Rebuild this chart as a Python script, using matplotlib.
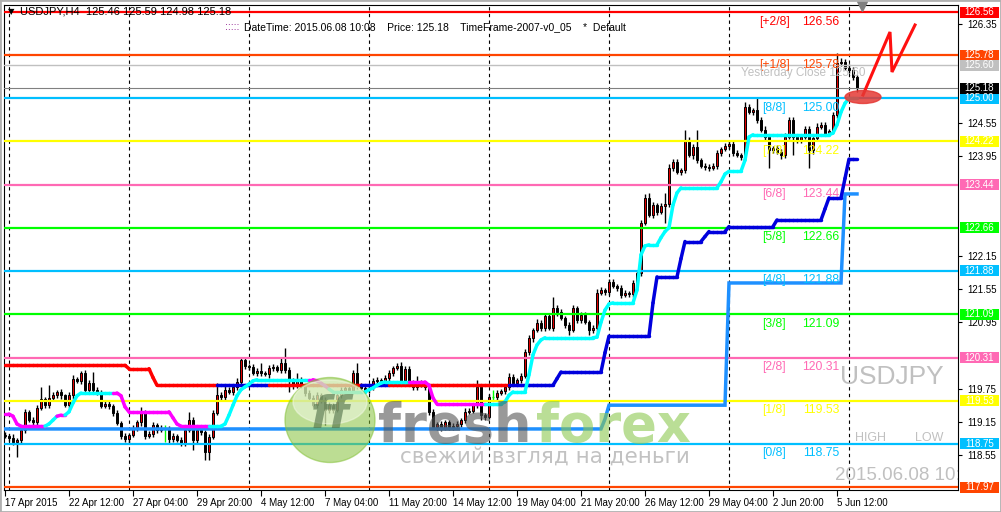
import numpy as np
import pandas as pd
import matplotlib
matplotlib.use("Agg")
import matplotlib.pyplot as plt
import matplotlib.transforms as mtransforms
from matplotlib.collections import LineCollection
from matplotlib.patches import Ellipse, Rectangle

plt.rcParams['font.family'] = ['Liberation Sans', 'DejaVu Sans']

# ---------------- data: USDJPY H4 ----------------
first_open = 118.91
closes = [
    118.89, 118.86, 118.79, 118.82, 119.00, 119.33, 119.18, 119.14, 119.40, 119.56,
    119.45, 119.58, 119.63, 119.69, 119.63, 119.45, 119.63, 119.92, 119.89, 120.03,
    119.73, 119.85, 119.73, 119.69, 119.44, 119.47, 119.44, 119.31, 119.13, 118.89,
    118.84, 118.91, 119.04, 119.14, 119.33, 118.89, 118.93, 119.09, 119.00, 119.04,
    119.04, 118.84, 118.89, 118.82, 118.77, 119.00, 119.18, 118.82, 119.00, 118.97,
    118.60, 118.88, 119.31, 119.63, 119.60, 119.73, 119.69, 119.78, 119.87, 120.27,
    120.16, 120.14, 120.03, 120.07, 120.03, 120.01, 120.12, 120.14, 120.09, 120.21,
    120.09, 119.91, 119.81, 119.91, 119.80, 119.67, 119.58, 119.45, 119.63, 119.54,
    119.36, 119.45, 119.36, 119.63, 119.73, 119.76, 119.73, 120.03, 119.81, 119.76,
    119.73, 119.76, 119.89, 119.91, 119.85, 119.94, 120.03, 120.12, 120.16, 119.91,
    120.10, 119.87, 119.78, 119.81, 119.85, 119.78, 119.33, 119.06, 119.11, 119.04,
    119.14, 119.06, 119.07, 119.11, 119.18, 119.33, 119.35, 119.45, 119.78, 119.27,
    119.24, 119.60, 119.60, 119.67, 119.71, 119.78, 119.96, 119.85, 119.91, 119.98,
    120.41, 120.66, 120.81, 120.94, 120.85, 121.06, 120.85, 121.21, 121.13, 121.03,
    120.90, 120.81, 121.21, 120.99, 121.08, 120.95, 120.81, 120.85, 121.48, 121.53,
    121.50, 121.68, 121.61, 121.57, 121.44, 121.48, 121.46, 121.66, 121.84, 122.75,
    123.20, 122.89, 123.07, 122.94, 123.05, 123.09, 123.74, 123.85, 123.67, 123.70,
    124.25, 123.97, 124.12, 123.88, 123.78, 123.76, 123.74, 123.78, 124.01, 124.08,
    124.14, 124.17, 124.01, 123.97, 123.94, 124.84, 124.75, 124.79, 124.61, 124.43,
    124.30, 124.06, 124.10, 124.03, 123.97, 124.30, 124.61, 124.30, 124.25, 124.30,
    124.44, 124.06, 124.28, 124.48, 124.52, 124.37, 124.41, 124.70, 125.64, 125.66,
    125.55, 125.51, 125.38, 125.18,
]
# wick lengths in pips above / below the body
wick_up = [
    5, 4, 6, 3, 6, 5, 4, 6, 5, 22,
    4, 23, 5, 4, 6, 3, 5, 7, 4, 4,
    6, 5, 20, 5, 4, 6, 5, 4, 6, 3,
    5, 4, 6, 5, 8, 4, 5, 6, 4, 5,
    5, 4, 6, 3, 5, 4, 15, 5, 4, 6,
    4, 5, 6, 22, 5, 6, 4, 5, 7, 6,
    5, 4, 6, 5, 14, 4, 6, 5, 4, 9,
    27, 5, 4, 12, 5, 4, 6, 5, 6, 4,
    5, 6, 4, 7, 5, 4, 6, 5, 18, 4,
    5, 4, 6, 5, 4, 6, 5, 4, 6, 7,
    5, 6, 4, 17, 5, 4, 6, 5, 4, 6,
    5, 4, 6, 5, 4, 6, 5, 4, 13, 5,
    4, 6, 13, 5, 4, 6, 8, 5, 4, 6,
    5, 6, 4, 7, 5, 6, 4, 20, 5, 6,
    4, 5, 6, 4, 5, 6, 4, 5, 8, 5,
    4, 6, 5, 4, 6, 5, 4, 6, 5, 5,
    6, 9, 5, 4, 6, 20, 8, 5, 6, 4,
    18, 5, 6, 31, 4, 5, 6, 5, 6, 4,
    5, 8, 6, 5, 4, 10, 5, 4, 21, 5,
    6, 5, 4, 6, 5, 8, 6, 5, 4, 6,
    5, 6, 4, 7, 5, 6, 4, 5, 18, 6,
    5, 7, 6, 5,
]
wick_dn = [
    4, 5, 6, 28, 5, 6, 4, 5, 6, 4,
    5, 6, 4, 5, 6, 4, 5, 6, 4, 5,
    6, 5, 4, 6, 5, 4, 6, 5, 4, 6,
    5, 7, 4, 5, 6, 5, 4, 6, 5, 4,
    25, 7, 5, 4, 6, 5, 4, 18, 5, 6,
    14, 14, 5, 4, 6, 5, 4, 6, 5, 4,
    6, 5, 4, 6, 5, 4, 6, 5, 4, 6,
    5, 22, 6, 5, 4, 6, 5, 4, 6, 5,
    27, 5, 6, 4, 5, 6, 4, 5, 6, 4,
    5, 6, 4, 5, 6, 4, 5, 6, 4, 5,
    6, 4, 5, 6, 4, 5, 6, 4, 5, 6,
    4, 5, 6, 4, 5, 6, 4, 5, 6, 9,
    5, 4, 5, 6, 4, 5, 6, 4, 5, 6,
    4, 5, 6, 4, 5, 6, 4, 5, 6, 4,
    5, 9, 4, 6, 5, 4, 9, 5, 6, 4,
    5, 6, 4, 5, 6, 4, 5, 6, 4, 6,
    5, 4, 6, 5, 4, 30, 6, 5, 4, 6,
    5, 4, 6, 5, 4, 6, 5, 4, 6, 5,
    4, 6, 5, 4, 6, 5, 4, 6, 5, 4,
    6, 32, 5, 4, 6, 5, 4, 33, 5, 6,
    4, 32, 6, 5, 4, 6, 5, 4, 6, 5,
    4, 6, 5, 7,
]

# trailing support line (magenta = down mode, cyan = up mode)
support = (
    [119.29, 119.29, 119.25, 119.11] + [119.07] * 7 + [119.11, 119.18, 119.25, 119.27, 119.27, 119.33, 119.49, 119.62]
    + [119.67] * 10 + [119.62, 119.42] + [119.33] * 11 + [119.22, 119.11] + [119.07] * 11
    + [119.11, 119.27, 119.45, 119.62, 119.73, 119.78, 119.83, 119.89] + [119.91] * 15
    + [119.89, 119.85, 119.80, 119.74] + [119.69] * 9 + [119.73, 119.76, 119.81, 119.85] + [119.87] * 11
    + [119.81, 119.58] + [119.47] * 17 + [119.51, 119.63] + [119.69] * 4
    + [120.00, 120.36, 120.54, 120.63] + [120.67] * 13 + [120.68, 120.95, 121.17, 121.28] + [121.30] * 6
    + [121.53, 122.17, 122.33, 122.35, 122.35, 122.35, 122.48, 122.59, 122.66, 123.07, 123.29]
    + [123.38] * 10 + [123.49, 123.63] + [123.68] * 4 + [123.88, 124.30] + [124.34] * 20
    + [124.37, 124.52, 124.75, 124.91, 125.00, 125.00, 125.00]
)
support_mode = [('m', 11), ('c', 3), ('m', 2), ('c', 12), ('m', 24), ('c', 25),
                ('m', 5), ('c', 20), ('m', 19), ('c', 93)]

# trailing resistance line (red = down mode, blue = up mode)
resist = (
    [120.17] * 31 + [120.11] * 6 + [119.95] + [119.81] * 100 + [119.93] + [120.05] * 11
    + [120.40] + [120.70] * 11 + [121.30] + [121.77] * 6 + [122.10] + [122.41] * 5
    + [122.50] + [122.59] * 5 + [122.68] * 12 + [122.80] * 12 + [123.00] + [123.20] * 4
    + [123.55] + [123.90] * 3
)
resist_mode = [('r', 54), ('b', 13), ('r', 23), ('b', 7), ('r', 30), ('b', 87)]

# second stop line
stop2 = [119.02] * 150 + [119.20] + [119.45] * 30 + [121.66] * 29 + [123.27] * 4

# Murrey math levels
mm_names = ['[+2/8]', '[+1/8]', '[8/8]', '[7/8]', '[6/8]', '[5/8]', '[4/8]',
            '[3/8]', '[2/8]', '[1/8]', '[0/8]', '[-1/8]']
mm_levels = [126.56, 125.78, 125.00, 124.22, 123.44, 122.66, 121.88,
             121.09, 120.31, 119.53, 118.75, 117.97]
mm_colors = ['#FF0000', '#FF4500', '#00BFFF', '#FFFF00', '#FF69B4', '#00FF00',
             '#00BFFF', '#00FF00', '#FF69B4', '#FFFF00', '#00BFFF', '#FF4500']
yesterday_close = 125.60
bid = 125.18

# ---------------- derived ----------------
n = len(closes)
x = np.arange(n)
c = np.array(closes)
o = np.array([first_open] + closes[:-1])
hi = np.maximum(o, c) + np.array(wick_up) / 100
lo = np.minimum(o, c) - np.array(wick_dn) / 100

times = pd.date_range('2015-04-17 20:00', periods=400, freq='4h')
times = times[times.dayofweek < 5][:n]
tick_idx = x[::16]
tick_lbl = [f"{times[i].day} {times[i]:%b %H:%M}" for i in tick_idx]
tick_lbl[0] = f"{times[0].day} {times[0]:%b %Y}"
week_starts = [i for i in x if times[i].dayofweek == 0 and times[i].hour == 0]

# ---------------- figure ----------------
W, H = 1001, 512
fig = plt.figure(figsize=(W / 100, H / 100), dpi=100)
fig.patch.set_facecolor('white')
L, R, T, B = 4, 958, 5, 490
ax = fig.add_axes([L / W, (H - B) / H, (R - L) / W, (B - T) / H])
ax.set_facecolor('white')

def P(px, py):
    # pixel position -> axes fraction
    return ((px - L) / (R - L), (B - py) / (B - T))

ax.set_xlim(-0.25, 238.25)
ax.set_ylim(117.916, 126.687)
px_per_price = (B - T) / (126.687 - 117.916)

# week separators
for i in week_starts:
    ax.axvline(i, color='black', lw=0.8, ls=(0, (3, 3)), zorder=1)

# candles
bull = c > o + 1e-9
bear = c < o - 1e-9
doji = ~(bull | bear)
ax.vlines(x[~doji], lo[~doji], hi[~doji], color='black', lw=1, zorder=2)
ax.vlines(x[doji], lo[doji], hi[doji], color='#00FF00', lw=1, zorder=2)
ax.hlines(c[doji], x[doji] - 0.35, x[doji] + 0.35, color='#00FF00', lw=1, zorder=2)
ax.bar(x[bull], (c - o)[bull], bottom=o[bull], width=0.62, color='#E00000',
       edgecolor='black', lw=0.7, zorder=2)
ax.bar(x[bear], (o - c)[bear], bottom=c[bear], width=0.62, color='black',
       edgecolor='black', lw=0.7, zorder=2)

# price reference lines
ax.axhline(yesterday_close, color='#C0C0C0', lw=1, zorder=3)
ax.axhline(bid, color='#808080', lw=0.8, zorder=3)

# murrey lines and labels (the [-1/8] label falls below the chart bottom)
for name, lvl, col in zip(mm_names, mm_levels, mm_colors):
    ax.axhline(lvl, color=col, lw=1.6, zorder=3)
    if lvl == min(mm_levels):
        continue
    for txt, px in ((name, 774), (f"{lvl:.2f}", 821)):
        ax.annotate(txt, xy=(P(px, 0)[0], lvl), xycoords=('axes fraction', 'data'),
                    xytext=(0, -6.9), textcoords='offset points', ha='center',
                    va='center', color=col, fontsize=8.7, zorder=5, clip_on=True)

# indicator lines
def colored_line(vals, modes, cmap):
    cols = []
    for m, k in modes:
        cols += [cmap[m]] * k
    pts = np.column_stack([x, vals])
    segs = [pts[i:i + 2] for i in range(n - 1)]
    return LineCollection(segs, colors=cols[1:], lw=2.5, zorder=4, capstyle='round')

ax.plot(x, stop2, color='#1E90FF', lw=2.5, zorder=4, solid_joinstyle='miter')
ax.add_collection(colored_line(np.array(resist), resist_mode, {'r': '#FF0000', 'b': '#0000DD'}))
ax.add_collection(colored_line(np.array(support), support_mode, {'m': '#FF00FF', 'c': '#00FFFF'}))

# texts on chart
ax.text(*P(8, 12), '\u25bc', transform=ax.transAxes, fontsize=6, va='center', ha='left',
        family=['DejaVu Sans'], zorder=6)
ax.text(*P(20, 12), 'USDJPY,H4  125.46 125.59 124.98 125.18', transform=ax.transAxes,
        fontsize=8, va='center', ha='left', zorder=6)
ax.text(*P(225, 27), ':::::', transform=ax.transAxes, fontsize=7.5, va='center',
        ha='left', color='#800080', zorder=6)
ax.text(*P(244, 27), 'DateTime: 2015.06.08 10:08    Price: 125.18    TimeFrame-2007-v0_05    *  Default',
        transform=ax.transAxes, fontsize=7.5, va='center', ha='left', zorder=6)
ax.text(*P(741, 73), f'Yesterday Close {yesterday_close:.2f}', transform=ax.transAxes,
        fontsize=8.5, va='center', ha='left', color='#C0C0C0', zorder=5)
ax.text(*P(840, 377), 'USDJPY', transform=ax.transAxes, fontsize=19, va='center',
        ha='left', color='#C0C0C0', zorder=5)
ax.text(*P(855, 438), 'HIGH', transform=ax.transAxes, fontsize=9, va='center',
        ha='left', color='#C0C0C0', zorder=5)
ax.text(*P(915, 438), 'LOW', transform=ax.transAxes, fontsize=9, va='center',
        ha='left', color='#C0C0C0', zorder=5)
ax.text(*P(835, 476), '2015.06.08 10:08', transform=ax.transAxes, fontsize=13.5,
        va='center', ha='left', color='#C0C0C0', zorder=5, clip_on=True)

# red hand drawn arrow and ellipse
zz = np.array([P(863, 95), P(890, 32), P(892, 72), P(915, 25)])
ax.plot(zz[:, 0], zz[:, 1], color='#FF1010', lw=2.2, transform=ax.transAxes, zorder=7,
        solid_joinstyle='miter')
ax.add_patch(Ellipse(P(863, 97), 36 / (R - L), 13 / (B - T), transform=ax.transAxes,
                     color='#E53935', alpha=0.85, zorder=8))
ax.plot(*P(862, 6), marker='v', color='#808080', ms=7, transform=ax.transAxes,
        clip_on=False, zorder=8)

# freshforex watermark
ax.add_patch(Ellipse(P(330, 420), 90 / (R - L), 85 / (B - T), transform=ax.transAxes,
                     color='#86C23A', alpha=0.55, zorder=9))
ax.add_patch(Ellipse(P(330, 402), 74 / (R - L), 44 / (B - T), transform=ax.transAxes,
                     color='#F2F9E4', alpha=0.55, zorder=9))
ax.text(*P(330, 416), 'ff', transform=ax.transAxes, fontsize=32, fontweight='bold',
        fontstyle='italic', color='#4E6E46', alpha=0.6, ha='center', va='center', zorder=10,
        family=['DejaVu Sans'])
ax.text(*P(378, 442), 'fresh', transform=ax.transAxes, fontsize=38, fontweight='bold',
        color='#555555', alpha=0.6, ha='left', va='baseline', zorder=10,
        family=['DejaVu Sans'])
ax.text(*P(536, 442), 'forex', transform=ax.transAxes, fontsize=38, fontweight='bold',
        color='#8CC850', alpha=0.6, ha='left', va='baseline', zorder=10,
        family=['DejaVu Sans'])
ax.text(*P(400, 463), 'свежий взгляд на деньги', transform=ax.transAxes, fontsize=15.5,
        color='#909090', alpha=0.55, ha='left', va='baseline', zorder=10,
        family=['DejaVu Sans'])

# axes, ticks
for s in ax.spines.values():
    s.set_color('black')
    s.set_linewidth(0.8)
ax.yaxis.tick_right()
box_levels = mm_levels + [yesterday_close, bid]
yt = [v for v in np.round(np.arange(117.95, 126.40, 0.6), 2)
      if min(abs(v - b) for b in box_levels) > 0.12]
ax.set_yticks(yt)
ax.set_yticklabels([f"{v:.2f}" for v in yt])
ax.tick_params(axis='y', length=3, width=0.8, labelsize=7, pad=4)
ax.set_xticks(tick_idx)
ax.set_xticklabels(tick_lbl)
for lab in ax.get_xticklabels():
    lab.set_horizontalalignment('left')
ax.tick_params(axis='x', length=4, width=0.8, labelsize=7, pad=2)

# right axis price boxes
trans = mtransforms.blended_transform_factory(ax.transAxes, ax.transData)
box_cols = mm_colors + ['#C0C0C0', '#000000']
bh = 11 / px_per_price
for lvl, col in zip(box_levels, box_cols):
    ax.add_patch(Rectangle((1 + 2 / (R - L), lvl - bh / 2), 39 / (R - L), bh,
                           transform=trans, fc=col, ec='none', clip_on=False, zorder=9))
    ax.text(1 + 21.5 / (R - L), lvl, f"{lvl:.2f}", transform=trans, fontsize=7,
            color='white', va='center', ha='center', clip_on=False, zorder=10)

fig.add_artist(Rectangle((0, 0), 1, 1, transform=fig.transFigure, fill=False,
                         ec='#B0B0B0', lw=2))

fig.savefig('out.png', dpi=100)
